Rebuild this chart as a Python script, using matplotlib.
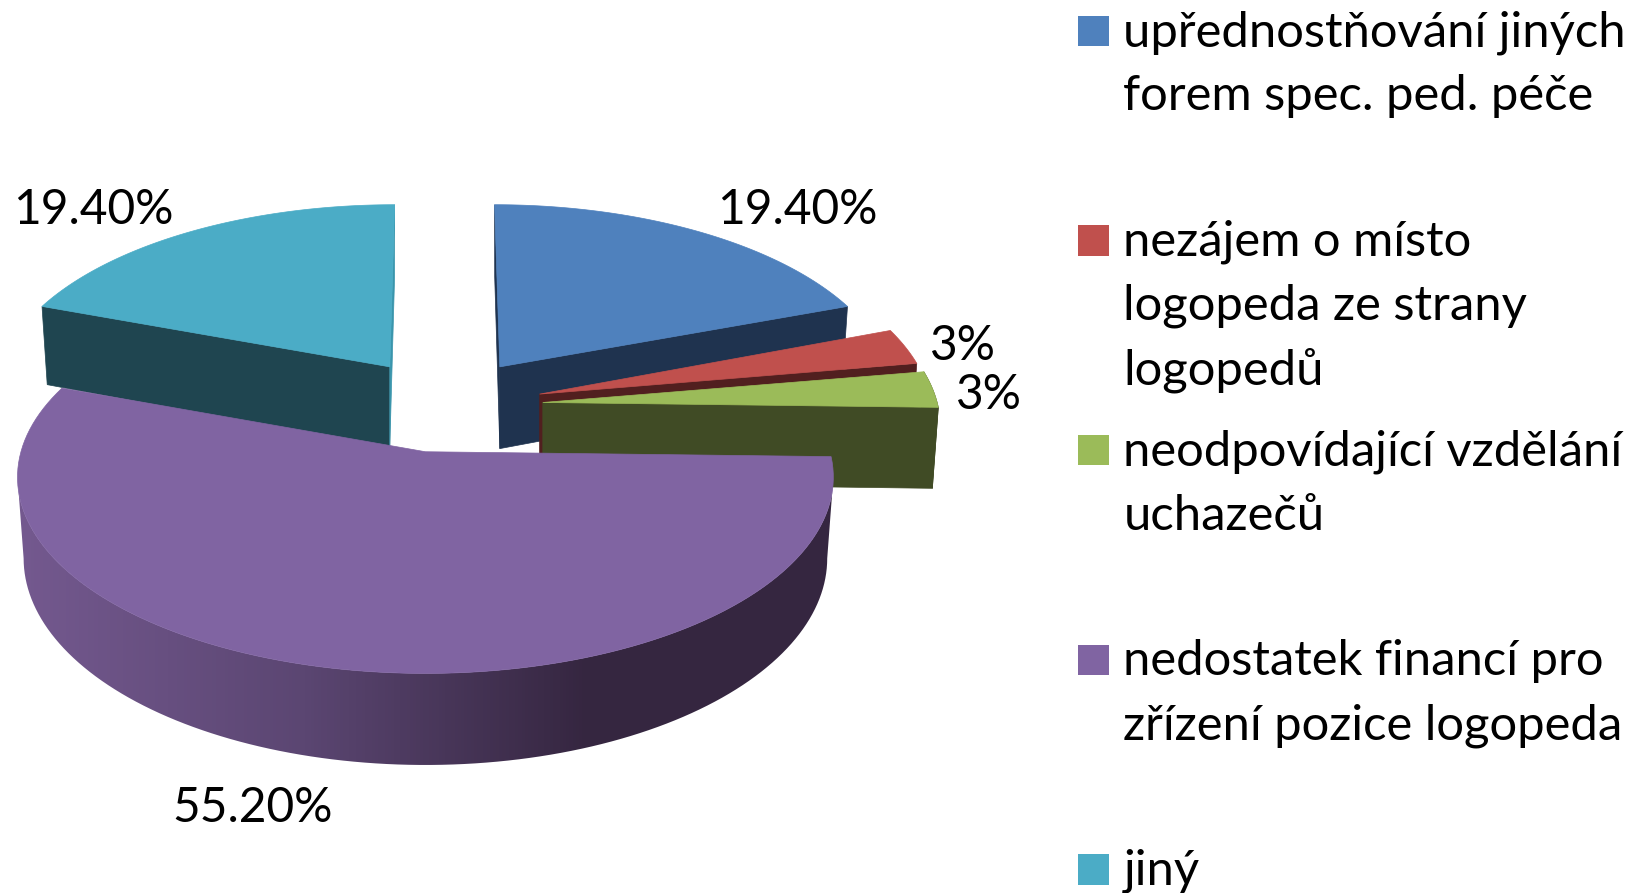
#!/usr/bin/env python3
"""Exploded 3D pie of the reasons, drawn by hand because matplotlib has no 3D pie."""

import numpy as np
import matplotlib
matplotlib.use('Agg')
import matplotlib.pyplot as plt
from matplotlib.colors import LinearSegmentedColormap
from matplotlib.patches import Polygon, Rectangle

categories = [
    ['upřednostňování jiných', 'forem spec. ped. péče'],
    ['nezájem o místo', 'logopeda ze strany', 'logopedů'],
    ['neodpovídající vzdělání', 'uchazečů'],
    ['nedostatek financí pro', 'zřízení pozice logopeda'],
    ['jiný'],
]
values = [19.4, 3, 3, 55.2, 19.4]
value_labels = ['19.40%', '3%', '3%', '55.20%', '19.40%']

top_colors = ['#4F81BD', '#C0504D', '#9BBB59', '#8064A2', '#4BACC6']
side_colors = ['#1F334F', '#511F1F', '#404B25', '#352640', '#1F4550']
cut_colors = ['#1F334F', None, None, None, '#3A95AC']

# layout is in reference pixels, shrunk to 1568 wide
WIDTH, HEIGHT = 1568, 852
RX, RY = 386, 184
PERSP = 0.13
NARROW = 0.985
# apex x, apex y, x scale, y scale, skew, depth for every slice
apex_x = [477, 515, 518, 406, 372]
apex_y = [350, 376, 384, 431, 350]
scale_x = [0.962, 0.965, 0.975, 1.0, 0.962]
scale_y = [0.95, 1.0, 1.0, 1.0, 0.95]
skew = [0.032, 0, 0, 0, -0.03]
depth = [78, 76, 77, 76, 78]
label_x = [761, 919, 944, 241, 89]
label_y = [200, 330, 377, 771, 200]
draw_order = [4, 0, 1, 2, 3]

FONT = 'Lato'
LABEL_SIZE = 34.5
LEGEND_SIZE = 35.3
LEGEND_TOP = 31
LEGEND_STEP = 200
LINE_STEP = 61
# the wall only shows between the two points where the ellipse is widest
WIDEST = np.degrees(np.arccos(-PERSP))


def rim(i, a0, a1, n=120):
    """Top rim of slice i between two angles, clockwise from the back."""
    t = np.radians(np.linspace(a0, a1, n))
    w = 1 + PERSP * np.cos(t)
    x = RX * scale_x[i] * np.sin(t) / w
    y = -RY * scale_y[i] * np.cos(t) / w
    return apex_x[i] + x + skew[i] * y, apex_y[i] + y


def drop(i, a0, a1, n=120):
    """Bottom rim of slice i, nearer points drop further."""
    x, y = rim(i, a0, a1, n)
    w = 1 + PERSP * np.cos(np.radians(np.linspace(a0, a1, n)))
    return apex_x[i] + (x - apex_x[i]) * NARROW, y + depth[i] / w


def draw_slice(ax, i, a0, a1):
    x, y = rim(i, a0, a1)
    bx, by = drop(i, a0, a1)
    ax0, ay0 = apex_x[i], apex_y[i]

    if i == 3:
        # the big slice shows its outer wall, with a gradient along x
        a_right, a_left = max(a0, WIDEST), min(a1, 360 - WIDEST)
        wx, wy = rim(i, a_right, a_left)
        wbx, wby = drop(i, a_right, a_left)
        wall = np.column_stack([np.r_[wx, wbx[::-1]], np.r_[wy, wby[::-1]]])
        patch = Polygon(wall, closed=True, fc='none', ec='none')
        ax.add_patch(patch)
        cmap = LinearSegmentedColormap.from_list(
            'wall', [(0, '#74598F'), (0.35, '#5B4672'), (0.7, '#352640'), (1, '#352640')])
        img = ax.imshow(np.linspace(0, 1, 256).reshape(1, -1), cmap=cmap, aspect='auto',
                        extent=(17, 795, HEIGHT, 0), zorder=1)
        img.set_clip_path(patch)
    else:
        # the cut wall of an exploded slice, seen from the front
        end = 0 if i == 4 else -1
        wall = [(ax0, ay0), (x[end], y[end]), (bx[end], by[end]), (ax0, ay0 + depth[i])]
        ax.add_patch(Polygon(wall, closed=True, fc=side_colors[i], ec=side_colors[i],
                             lw=0.5, zorder=1))
        if cut_colors[i]:
            # the other cut shows as a thin sliver beside the gap
            end = -1 if i == 4 else 0
            wall = [(ax0, ay0), (x[end], y[end]), (bx[end], by[end]), (ax0, ay0 + depth[i])]
            ax.add_patch(Polygon(wall, closed=True, fc=cut_colors[i], ec=cut_colors[i],
                                 lw=0.5, zorder=1))
        if i == 2:
            # front of the rim still shows at the right edge
            ax.add_patch(Polygon(np.column_stack([np.r_[x, bx[::-1]], np.r_[y, by[::-1]]]),
                                 closed=True, fc=side_colors[i], ec=side_colors[i], lw=0.5,
                                 zorder=1))

    top = np.column_stack([np.r_[ax0, x], np.r_[ay0, y]])
    ax.add_patch(Polygon(top, closed=True, fc=top_colors[i], ec=top_colors[i], lw=0.5,
                         zorder=1))


def main():
    fig = plt.figure(figsize=(16.43, 8.93), dpi=100)
    ax = fig.add_axes([0, 0, 1, 1])

    edges = np.r_[0, np.cumsum(values)] / np.sum(values) * 360

    for i in draw_order:
        draw_slice(ax, i, edges[i], edges[i + 1])

    for i, text in enumerate(value_labels):
        ax.text(label_x[i], label_y[i], text, family=FONT, fontsize=LABEL_SIZE,
                ha='center', va='center', color='black', zorder=3)

    # legend, every entry starts one fixed step below the last
    for i, lines in enumerate(categories):
        y0 = LEGEND_TOP + i * LEGEND_STEP
        ax.add_patch(Rectangle((1029, y0 - 16), 29, 29, fc=top_colors[i], ec='none', zorder=3))
        for j, line in enumerate(lines):
            ax.text(1072, y0 + j * LINE_STEP, line, family=FONT, fontsize=LEGEND_SIZE,
                    ha='left', va='center', color='black', zorder=3)

    ax.set_xlim(0, WIDTH)
    ax.set_ylim(HEIGHT, 0)
    ax.axis('off')
    fig.savefig('out.png', dpi=100)
    plt.close(fig)


if __name__ == "__main__":
    main()
